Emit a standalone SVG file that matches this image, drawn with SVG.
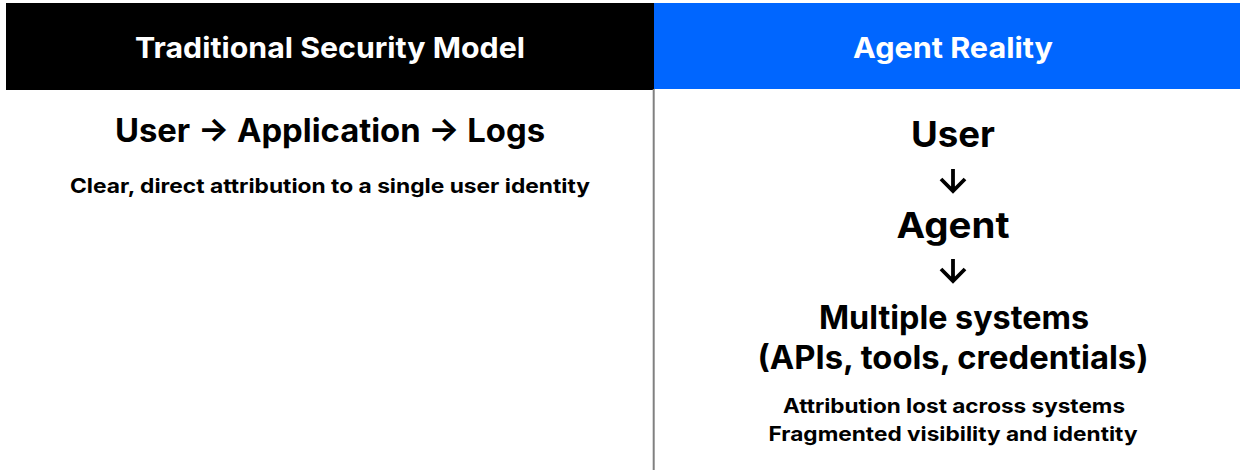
<svg xmlns="http://www.w3.org/2000/svg" width="1240" height="470" viewBox="0 0 1240 470">
  <style>
    text { font-family: Inter, "Liberation Sans", Arial, sans-serif; font-weight: 700; text-anchor: middle; fill: #000; }
    .hdr { fill: #fff; font-size: 29px; }
    .flow { font-size: 32px; }
    .big { font-size: 36px; }
    .mid { font-size: 32px; }
    .note { font-size: 20px; }
    .conn { fill: none; stroke: #000; stroke-width: 3.8; stroke-linecap: butt; stroke-linejoin: miter; }
  </style>
  <rect x="0" y="0" width="1240" height="470" fill="#fff"/>
  <g id="header-traditional">
    <rect x="6" y="3" width="648" height="87" fill="#000"/>
    <text class="hdr" x="330" y="58" textLength="390" lengthAdjust="spacingAndGlyphs">Traditional Security Model</text>
  </g>
  <g id="header-agent">
    <rect x="654" y="3" width="586" height="86" fill="#0066ff"/>
    <text class="hdr" x="953" y="58" textLength="200" lengthAdjust="spacingAndGlyphs">Agent Reality</text>
  </g>
  <g id="divider">
    <line x1="653.7" y1="89" x2="653.7" y2="470" stroke="#808080" stroke-width="2"/>
  </g>
  <g id="traditional-flow">
    <text class="flow" x="330" y="142" textLength="430" lengthAdjust="spacingAndGlyphs">User → Application → Logs</text>
    <text class="note" x="330" y="193" textLength="520" lengthAdjust="spacingAndGlyphs">Clear, direct attribution to a single user identity</text>
  </g>
  <g id="node-user">
    <text class="big" x="953" y="147" textLength="84" lengthAdjust="spacingAndGlyphs">User</text>
  </g>
  <g id="node-agent">
    <text class="big" x="953" y="238" textLength="113" lengthAdjust="spacingAndGlyphs">Agent</text>
  </g>
  <g id="node-systems">
    <text class="mid" x="954" y="329" textLength="270" lengthAdjust="spacingAndGlyphs">Multiple systems</text>
    <text class="mid" x="953" y="369" textLength="391" lengthAdjust="spacingAndGlyphs">(APIs, tools, credentials)</text>
  </g>
  <g id="connectors">
    <path class="conn" d="M953 169 V191 M941 179 L953 191 L965 179"/>
    <path class="conn" d="M953 259 V281 M941 269 L953 281 L965 269"/>
  </g>
  <g id="agent-notes">
    <text class="note" x="954" y="413" textLength="342" lengthAdjust="spacingAndGlyphs">Attribution lost across systems</text>
    <text class="note" x="953" y="441" textLength="369" lengthAdjust="spacingAndGlyphs">Fragmented visibility and identity</text>
  </g>
</svg>
